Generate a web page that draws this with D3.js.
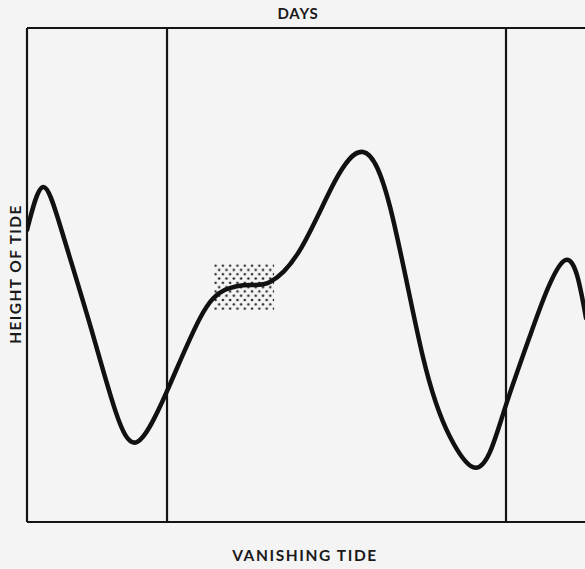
<!DOCTYPE html>
<html>
<head>
<meta charset="utf-8">
<script src="https://cdn.jsdelivr.net/npm/d3@7/dist/d3.min.js"></script>
<style>
  html, body { margin: 0; padding: 0; background: #f4f4f4; }
  svg { display: block; }
  text { font-family: Lato, "Open Sans", sans-serif; font-weight: 700; fill: #1a1a1a; }
</style>
</head>
<body>
<svg id="chart" width="585" height="569"></svg>
<script>
// Tide record: hours since start of first day vs. water height (arbitrary units)
const hours = [
  14.09, 15.22, 16.57, 18.55, 20.32, 21.88, 24.00, 26.34, 28.11, 29.88,
  31.29, 33.42, 35.89, 37.88, 39.79, 42.12, 44.04, 45.66, 46.87, 48.00,
  49.70, 52.18, 53.66
];
const heights = [
  5.91, 6.78, 5.87, 3.99, 2.27, 1.62, 2.65, 4.13, 4.70, 4.80,
  4.86, 5.51, 6.90, 7.49, 6.38, 3.34, 1.72, 1.11, 1.42, 2.37,
  3.77, 5.30, 4.13
];
// Midnight boundaries between days
const dayBoundaries = [24, 48];
// Interval where the tide "vanishes" (stand of the tide)
const vanishHours = [27.33, 31.58];
const vanishHeights = [4.29, 5.22];

const titleTop = "DAYS";
const titleLeft = "HEIGHT OF TIDE";
const titleBottom = "VANISHING TIDE";

const svg = d3.select("#chart");
const W = 585, H = 569;
const plotLeft = 27, plotTop = 28, plotBottom = 522;

const x = d3.scaleLinear().domain([14.1, 53.6]).range([plotLeft + 0.2, 585.1]);
const y = d3.scaleLinear().domain([0, 10]).range([plotBottom, plotTop]);

// dotted screen for the vanishing-tide interval
const defs = svg.append("defs");
const pat = defs.append("pattern")
  .attr("id", "screen")
  .attr("patternUnits", "userSpaceOnUse")
  .attr("width", 7.3).attr("height", 8.6)
  .attr("x", x(vanishHours[0]) + 1.5).attr("y", y(vanishHeights[1]) + 1.5);
[[0, 0], [7.3, 0], [0, 8.6], [7.3, 8.6], [3.65, 4.3]].forEach(([cx, cy]) => {
  pat.append("circle").attr("cx", cx).attr("cy", cy).attr("r", 1.3).attr("fill", "#2a2a2a");
});

defs.append("clipPath").attr("id", "plot")
  .append("rect").attr("x", plotLeft).attr("y", plotTop)
  .attr("width", W - plotLeft).attr("height", plotBottom - plotTop);

svg.append("rect")
  .attr("x", x(vanishHours[0]))
  .attr("y", y(vanishHeights[1]))
  .attr("width", x(vanishHours[1]) - x(vanishHours[0]))
  .attr("height", y(vanishHeights[0]) - y(vanishHeights[1]))
  .attr("fill", "url(#screen)");

// frame: top, bottom and left edges (open on the right)
const frame = svg.append("g").attr("stroke", "#141414").attr("stroke-width", 2.2).attr("fill", "none");
frame.append("line").attr("x1", plotLeft).attr("x2", W).attr("y1", plotTop).attr("y2", plotTop);
frame.append("line").attr("x1", plotLeft).attr("x2", W).attr("y1", plotBottom).attr("y2", plotBottom);
frame.append("line").attr("x1", plotLeft).attr("x2", plotLeft).attr("y1", plotTop).attr("y2", plotBottom);

// day boundary lines
svg.append("g").selectAll("line").data(dayBoundaries).join("line")
  .attr("x1", d => x(d)).attr("x2", d => x(d))
  .attr("y1", plotTop).attr("y2", plotBottom)
  .attr("stroke", "#141414").attr("stroke-width", 2.2);

// tide curve
const pts = hours.map((h, i) => [h, heights[i]]);
const line = d3.line()
  .x(d => x(d[0])).y(d => y(d[1]))
  .curve(d3.curveNatural);

svg.append("path")
  .datum(pts)
  .attr("d", line)
  .attr("clip-path", "url(#plot)")
  .attr("fill", "none")
  .attr("stroke", "#111")
  .attr("stroke-width", 4.5)
  .attr("stroke-linejoin", "round")
  .attr("stroke-linecap", "round");

// titles
svg.append("text").attr("x", 298).attr("y", 19).attr("text-anchor", "middle")
  .attr("font-size", 15).attr("letter-spacing", 0.8).text(titleTop);
svg.append("text").attr("transform", "translate(21,274) rotate(-90)").attr("text-anchor", "middle")
  .attr("font-size", 15.5).attr("letter-spacing", 1.4).text(titleLeft);
svg.append("text").attr("x", 305).attr("y", 561).attr("text-anchor", "middle")
  .attr("font-size", 15.5).attr("letter-spacing", 1.6).text(titleBottom);
</script>
</body>
</html>
